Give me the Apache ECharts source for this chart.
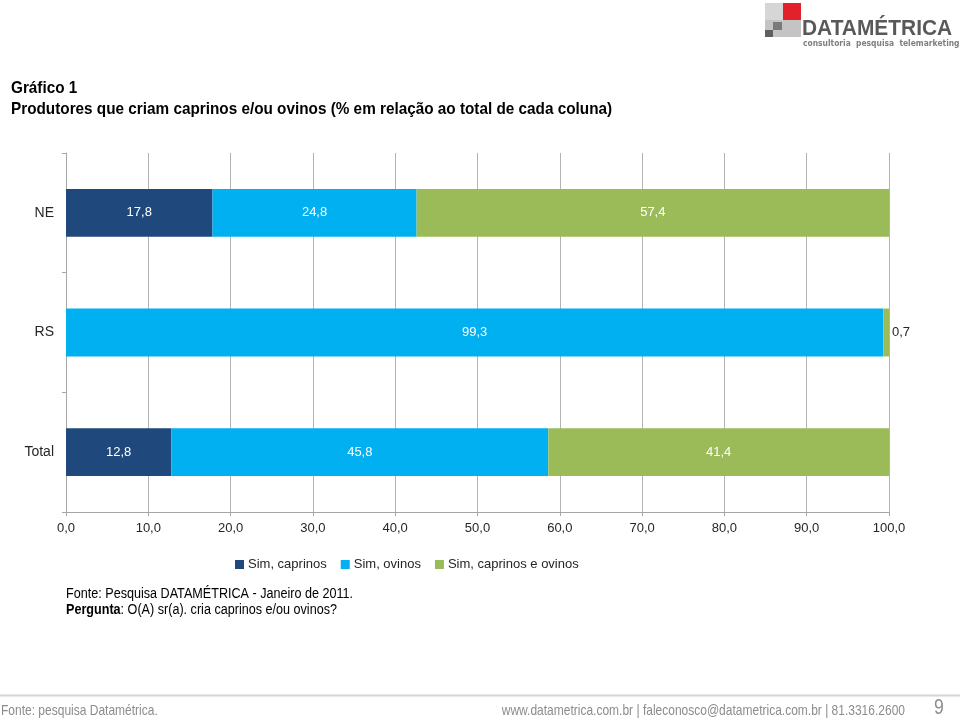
<!DOCTYPE html>
<html>
<head>
<meta charset="utf-8">
<script src="https://cdn.jsdelivr.net/npm/echarts@6/dist/echarts.min.js"></script>
<style>
html,body{margin:0;padding:0;background:#fff;}
#chart{width:960px;height:721px;}
</style>
</head>
<body>
<div id="chart"></div>
<script>
const categories = ['NE', 'RS', 'Total'];
const seriesNames = ['Sim, caprinos', 'Sim, ovinos', 'Sim, caprinos e ovinos'];
const simCaprinos = [17.8, 0, 12.8];
const simOvinos = [24.8, 99.3, 45.8];
const simAmbos = [57.4, 0.7, 41.4];
const xMin = 0, xMax = 100, xStep = 10;

const FONT = '"Liberation Sans", Arial, sans-serif';
const colors = ['#1F497D', '#00B0F0', '#9BBB59'];
const fmt = v => v.toFixed(1).replace('.', ',');

function mkData(arr) {
  return arr.map(v => {
    if (v === 0) return { value: v, label: { show: false } };
    if (v < 5) return { value: v, label: { position: 'right', color: '#262626', distance: 3 } };
    return v;
  });
}

const chart = echarts.init(document.getElementById('chart'), null, { renderer: 'canvas' });
const allData = [simCaprinos, simOvinos, simAmbos];

function txt(x, y, text, font, fill, sx, align, rich) {
  const st = { text, font, fill, align: align || 'left', verticalAlign: 'top' };
  if (rich) st.rich = rich;
  return { type: 'text', x, y, scaleX: sx, scaleY: 1, style: st };
}

chart.setOption({
  animation: false,
  color: colors,
  textStyle: { fontFamily: FONT },
  grid: { left: 66, right: 71, top: 153, bottom: 209, containLabel: false },
  legend: {
    data: seriesNames,
    left: 230, top: 553,
    icon: 'rect', itemWidth: 9, itemHeight: 9, itemGap: 14,
    textStyle: { fontFamily: FONT, fontSize: 13, color: '#262626', padding: [0, 0, 0, -1] }
  },
  xAxis: {
    type: 'value', min: xMin, max: xMax, interval: xStep,
    axisLine: { show: true, lineStyle: { color: '#a6a6a6' } },
    axisTick: { show: true, length: 4, lineStyle: { color: '#a6a6a6' } },
    splitLine: { show: true, lineStyle: { color: '#b3b3b3' } },
    axisLabel: { fontFamily: FONT, fontSize: 13, color: '#262626', margin: 10, formatter: v => fmt(v) }
  },
  yAxis: {
    type: 'category', data: categories, inverse: true,
    axisLine: { show: true, lineStyle: { color: '#a6a6a6' } },
    axisTick: { show: true, length: 4, lineStyle: { color: '#a6a6a6' } },
    axisLabel: { fontFamily: FONT, fontSize: 14, color: '#262626', margin: 12 }
  },
  series: seriesNames.map((name, i) => ({
    name, type: 'bar', stack: 'total', barWidth: '40%',
    data: mkData(allData[i]),
    label: {
      show: true, position: 'inside', color: '#ffffff',
      fontFamily: FONT, fontSize: 13,
      formatter: p => fmt(p.value)
    }
  })),
  graphic: [
    // title
    txt(11, 80, 'Gráfico 1', 'bold 17px ' + FONT, '#000', 0.9),
    txt(11, 101, 'Produtores que criam caprinos e/ou ovinos (% em relação ao total de cada coluna)', 'bold 17px ' + FONT, '#000', 0.9),
    // source
    txt(66, 587, 'Fonte: Pesquisa DATAMÉTRICA - Janeiro de 2011.', '14px ' + FONT, '#000', 0.9),
    txt(66, 603, '{b|Pergunta}: O(A) sr(a). cria caprinos e/ou ovinos?', '14px ' + FONT, '#000', 0.9, 'left',
        { b: { fontWeight: 'bold', fontFamily: FONT, fontSize: 14, fill: '#000' } }),
    // footer line
    { type: 'line', shape: { x1: 0, y1: 695.5, x2: 960, y2: 695.5 }, style: { stroke: '#d4d4d4', lineWidth: 2 } },
    txt(1, 703, 'Fonte: pesquisa Datamétrica.', '15px ' + FONT, '#8c8c8c', 0.8),
    txt(905, 703, 'www.datametrica.com.br | faleconosco@datametrica.com.br | 81.3316.2600', '15px ' + FONT, '#8c8c8c', 0.8, 'right'),
    txt(934, 697, '9', '22px ' + FONT, '#8c8c8c', 0.8),
    // logo
    { type: 'rect', shape: { x: 765, y: 3, width: 18, height: 17 }, style: { fill: '#d6d6d6' } },
    { type: 'rect', shape: { x: 783, y: 3, width: 18, height: 17 }, style: { fill: '#e2212a' } },
    { type: 'rect', shape: { x: 765, y: 20, width: 36, height: 17 }, style: { fill: '#c4c4c4' } },
    { type: 'rect', shape: { x: 773, y: 22, width: 9, height: 8 }, style: { fill: '#7a7a7a' } },
    { type: 'rect', shape: { x: 765, y: 30, width: 8, height: 7 }, style: { fill: '#5f5f5f' } },
    txt(802, 18, 'DATAMÉTRICA', 'bold 22px ' + FONT, '#595959', 0.95),
    txt(803, 39, 'consultoria  pesquisa  telemarketing', 'bold 8.5px "DejaVu Sans", sans-serif', '#7f7f7f', 0.89)
  ]
});
</script>
</body>
</html>
